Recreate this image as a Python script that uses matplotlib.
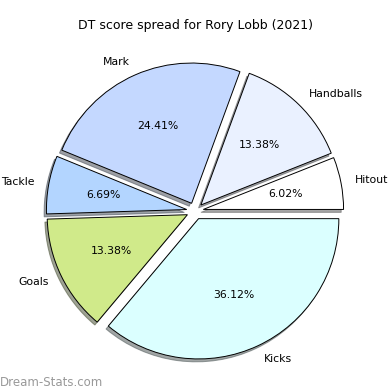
import matplotlib
matplotlib.use("Agg")
from matplotlib import pyplot as plt

# DT score spread data
labels = ["Hitout", "Handballs", "Mark", "Tackle", "Goals", "Kicks"]
shares = [6.02, 13.38, 24.41, 6.69, 13.38, 36.12]
colours = ["#ffffff", "#eaf1ff", "#c4d8ff", "#b3d5ff", "#d0ea8a", "#dbffff"]
explode = [0.06, 0.06, 0.06, 0.06, 0.06, 0.06]

fig, ax = plt.subplots(figsize=(3.9, 3.9), dpi=100)

ax.pie(shares, labels=labels, colors=colours, explode=explode,
       autopct="%1.2f%%", shadow={"ox": -0.012, "oy": -0.015},
       startangle=0,
       wedgeprops={"edgecolor": "black", "linewidth": 0.7},
       textprops={"fontsize": 7.8})
ax.axis("equal")

fig.text(0.5, 0.935, "DT score spread for Rory Lobb (2021)", fontsize=9,
         ha="center", va="center")
fig.text(0.0, 0.01, "Dream-Stats.com", color="#999999", fontsize=8.5)

plt.subplots_adjust(left=0.081, right=0.919, top=0.918, bottom=0.0)
plt.savefig("out.png")
